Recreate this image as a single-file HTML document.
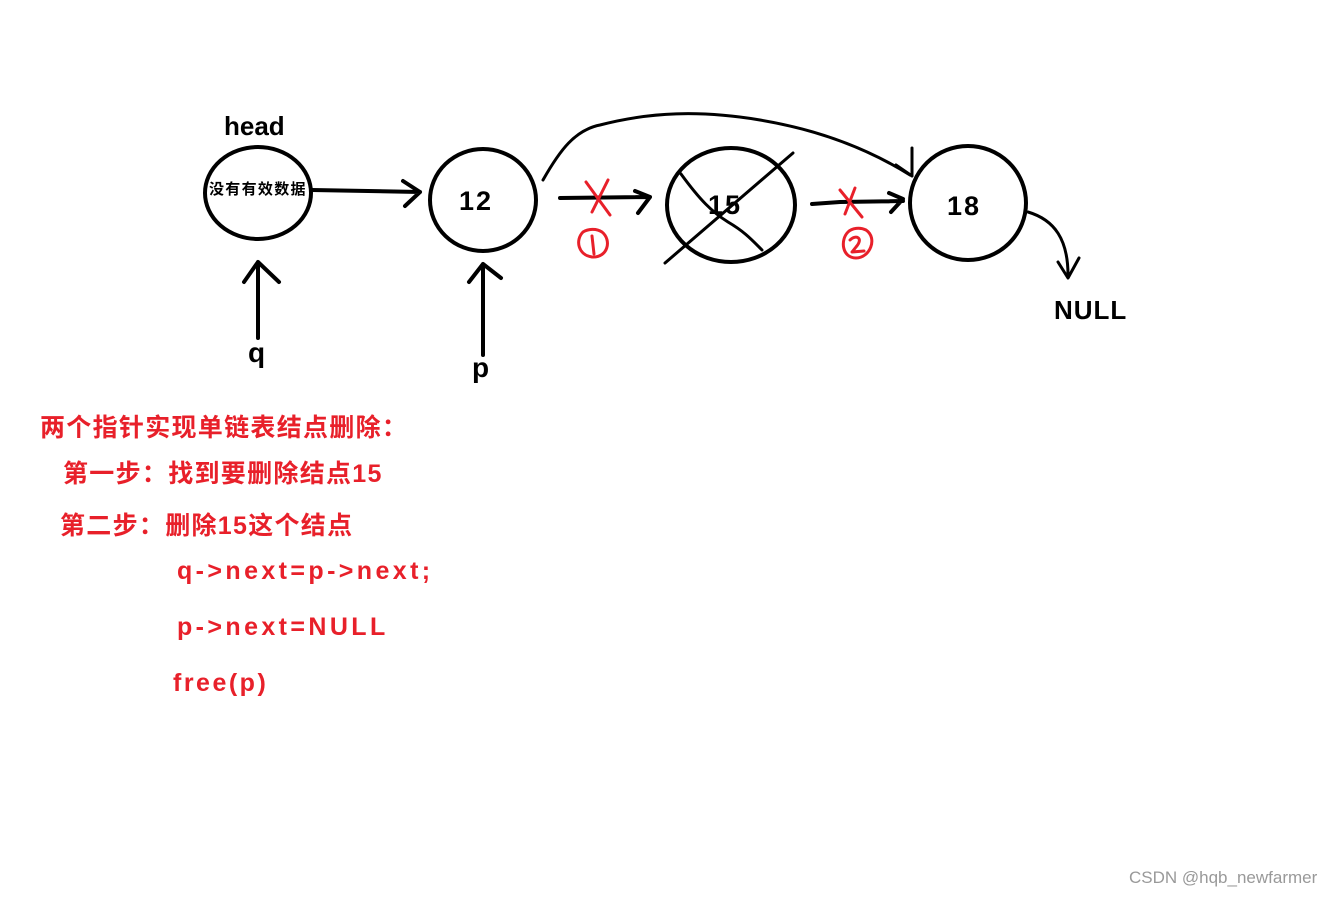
<!DOCTYPE html>
<html><head><meta charset="utf-8"><style>
body{margin:0;background:#fff;width:1342px;height:897px;overflow:hidden;position:relative;font-family:"Liberation Sans","Noto Sans CJK SC",sans-serif}
.t{position:absolute;font-weight:bold;white-space:nowrap}
.r{color:#e8202a;font-size:25px}
.c{letter-spacing:1.3px}
.m{letter-spacing:3.4px}
</style></head><body>
<svg width="1342" height="897" style="position:absolute;left:0;top:0" fill="none" stroke="#000" stroke-width="4" stroke-linecap="round" stroke-linejoin="round">
<ellipse cx="258" cy="193" rx="53" ry="46"/>
<ellipse cx="483" cy="200" rx="53" ry="51"/>
<ellipse cx="731" cy="205" rx="64" ry="57"/>
<ellipse cx="968" cy="203" rx="58" ry="57"/>
<path d="M312 190 L420 192 M403 181 L420 192 L405 206"/>
<path d="M258 338 V262 M244 282 L258 262 L279 282"/>
<path d="M483 355 V264 M469 282 L483 264 L501 278"/>
<path d="M560 198 L650 197 M635 191 L650 197 L638 213"/>
<path d="M812 204 L840 202 L903 201 M889 193 L903 199 L891 212"/>
<path d="M665 263 L793 153 M681 174 C700 200 712 212 728 222 C745 232 752 240 762 250" stroke-width="3"/>
<path d="M543 180 C560 150 575 130 600 125 C650 112 700 110 760 120 C820 130 870 150 910 175 M912 148 L912 176 M896 165 L912 176" stroke-width="3"/>
<path d="M1028 212 C1055 220 1068 240 1068 275 M1058 262 L1068 278 L1079 258" stroke-width="3"/>
<g stroke="#e8202a" stroke-width="3">
<path d="M586 182 L610 215 M608 180 L592 212"/>
<path d="M840 190 L862 217 M855 188 L845 214"/>
<path d="M583 232 C575 240 578 255 592 257 C608 258 612 240 602 232 C596 228 588 229 583 232 M592 236 L594 254"/>
<path d="M848 232 C840 240 842 258 856 258 C870 258 878 238 866 230 C860 227 852 228 848 232 M850 240 C856 234 864 238 856 247 L852 252 L864 251"/>
</g>
</svg>
<div class="t" style="left:224px;top:111px;font-size:26px">head</div>
<div class="t" style="left:209px;top:178px;font-size:15px;letter-spacing:1.3px">没有有效数据</div>
<div class="t" style="left:459px;top:186px;font-size:27px;letter-spacing:2px">12</div>
<div class="t" style="left:708px;top:190px;font-size:27px;letter-spacing:2px">15</div>
<div class="t" style="left:947px;top:191px;font-size:27px;letter-spacing:2px">18</div>
<div class="t" style="left:248px;top:337px;font-size:28px">q</div>
<div class="t" style="left:472px;top:352px;font-size:28px">p</div>
<div class="t" style="left:1054px;top:295px;font-size:26px;letter-spacing:1px">NULL</div>
<div class="t r c" style="left:40px;top:408px">两个指针实现单链表结点删除：</div>
<div class="t r c" style="left:63px;top:454px">第一步：找到要删除结点15</div>
<div class="t r c" style="left:60px;top:506px">第二步：删除15这个结点</div>
<div class="t r m" style="left:177px;top:557px">q-&gt;next=p-&gt;next;</div>
<div class="t r m" style="left:177px;top:613px">p-&gt;next=NULL</div>
<div class="t r" style="left:173px;top:669px;letter-spacing:2.5px">free(p)</div>
<div class="t" style="left:1129px;top:868px;font-size:17px;font-weight:normal;color:#999">CSDN @hqb_newfarmer</div>
</body></html>
